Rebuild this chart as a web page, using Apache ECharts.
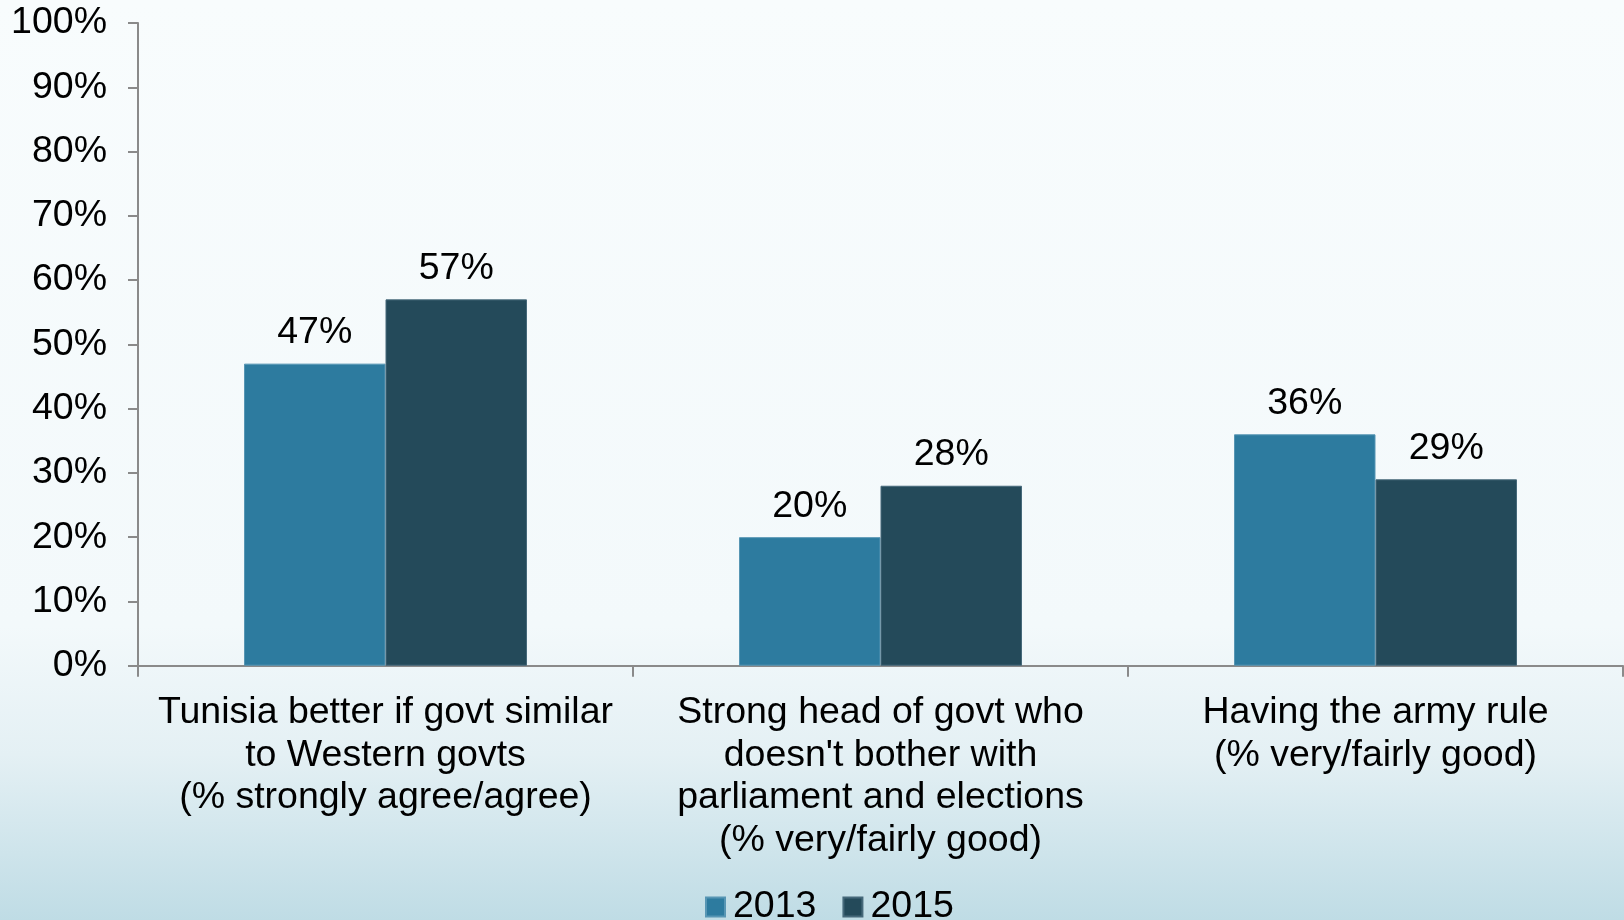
<!DOCTYPE html>
<html>
<head>
<meta charset="utf-8">
<script src="https://cdn.jsdelivr.net/npm/echarts@6/dist/echarts.min.js"></script>
<style>
  html, body { margin: 0; padding: 0; }
  #chart { width: 1624px; height: 920px; }
</style>
</head>
<body>
<div id="chart"></div>
<script>
// Survey questions (x-axis categories)
const categories = [
  'Tunisia better if govt similar\nto Western govts\n(% strongly agree/agree)',
  "Strong head of govt who\ndoesn't bother with\nparliament and elections\n(% very/fairly good)",
  'Having the army rule\n(% very/fairly good)'
];
// Share of respondents, percent
const values2013 = [47, 20, 36];
const values2015 = [57, 28, 29];
const seriesNames = ['2013', '2015'];
const seriesColors = ['#2d7b9f', '#244a5a'];

const FONT = '"Liberation Sans", Arial, sans-serif';
const FS = 37.5;

const chart = echarts.init(document.getElementById('chart'));

function barSeries(name, data, color, border) {
  return {
    name: name,
    type: 'bar',
    data: data,
    barWidth: 141.5,
    barGap: '0%',
    itemStyle: { color: color, borderColor: border, borderWidth: 1 },
    label: {
      show: true,
      position: 'top',
      distance: 12,
      formatter: '{c}%',
      color: '#000',
      fontSize: FS,
      fontFamily: FONT
    }
  };
}

chart.setOption({
  animation: false,
  backgroundColor: {
    type: 'linear', x: 0, y: 0, x2: 0, y2: 1,
    colorStops: [
      { offset: 0, color: '#f8fcfd' },
      { offset: 0.68, color: '#f3f9fb' },
      { offset: 0.82, color: '#e4f0f4' },
      { offset: 1, color: '#bfdce5' }
    ]
  },
  grid: { left: 138, right: 1, top: 23, bottom: 254.3, containLabel: false },
  legend: {
    data: seriesNames,
    left: 705,
    top: 888,
    padding: 0,
    itemWidth: 19,
    itemHeight: 19,
    itemGap: 26,
    icon: 'rect',
    textStyle: {
      color: '#000',
      fontSize: FS,
      fontFamily: FONT,
      lineHeight: 37,
      padding: [0, 0, 0, 3]
    }
  },
  xAxis: {
    type: 'category',
    data: categories,
    axisLine: { lineStyle: { color: '#8a8a8a', width: 2 } },
    axisTick: { show: true, length: 11, alignWithLabel: false, lineStyle: { color: '#8a8a8a', width: 2 } },
    axisLabel: {
      color: '#000',
      fontSize: FS,
      fontFamily: FONT,
      lineHeight: 42.5,
      margin: 26,
      interval: 0
    }
  },
  yAxis: {
    type: 'value',
    min: 0,
    max: 100,
    interval: 10,
    splitLine: { show: false },
    axisLine: { show: true, lineStyle: { color: '#8a8a8a', width: 2 } },
    axisTick: { show: true, length: 10, lineStyle: { color: '#8a8a8a', width: 2 } },
    axisLabel: {
      formatter: '{value}%',
      color: '#000',
      fontSize: FS,
      fontFamily: FONT,
      margin: 31
    }
  },
  series: [
    barSeries(seriesNames[0], values2013, seriesColors[0], '#5796b4'),
    barSeries(seriesNames[1], values2015, seriesColors[1], '#46697a')
  ]
});
</script>
</body>
</html>
